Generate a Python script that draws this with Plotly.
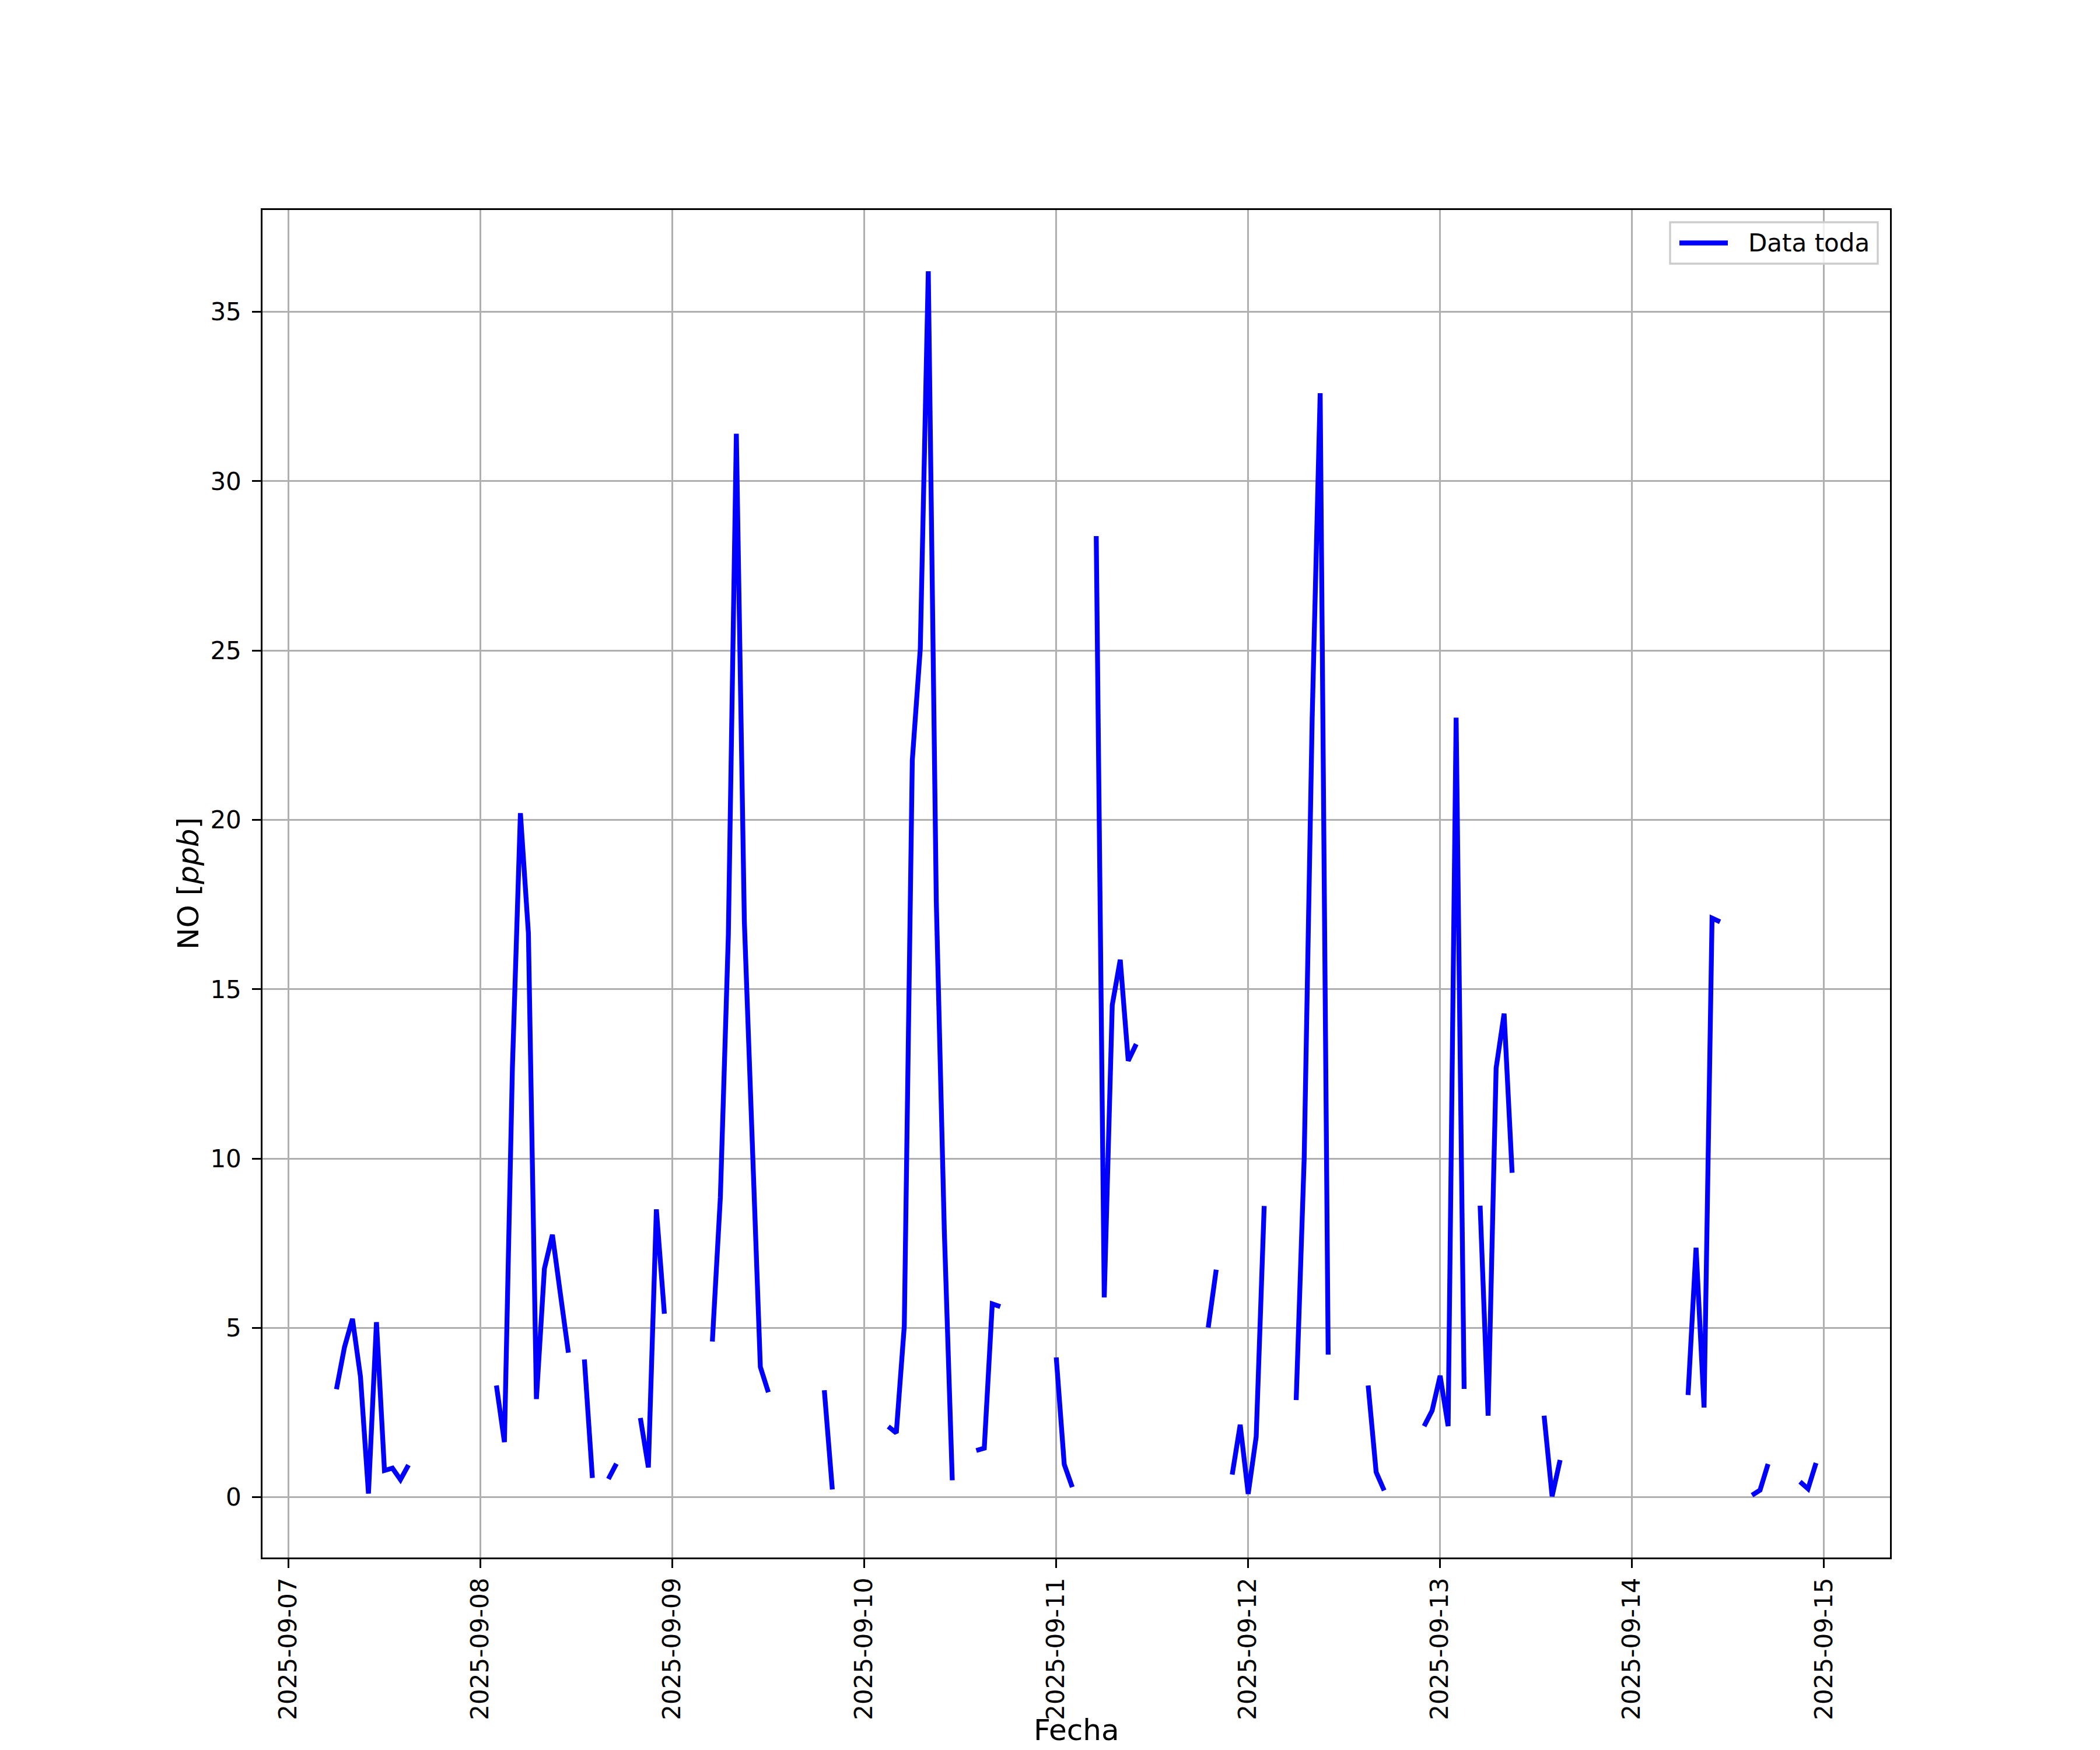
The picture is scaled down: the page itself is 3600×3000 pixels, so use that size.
import pandas as pd
import plotly.graph_objects as go

N = None
# Hourly NO values (ppb), hours 00..23 for each day; None = missing
dias = ["2025-09-07", "2025-09-08", "2025-09-09", "2025-09-10",
        "2025-09-11", "2025-09-12", "2025-09-13", "2025-09-14"]
no_07 = [N, N, N, N, N, N, 3.19, 4.43, 5.27, 3.56, 0.11, 5.17, 0.79, 0.86, 0.52, 0.95,
         N, N, N, N, N, N, N, N]
no_08 = [N, N, 3.30, 1.63, 12.7, 20.2, 16.65, 2.90, 6.75, 7.75, 6.0, 4.27, N, 4.07, 0.57, N,
         0.54, 0.99, N, N, 2.34, 0.88, 8.50, 5.42]
no_09 = [N, N, N, N, N, 4.6, 8.85, 16.6, 31.4, 17.0, 10.4, 3.85, 3.1, N, N, N,
         N, N, N, 3.16, 0.23, N, N, N]
no_10 = [N, N, N, 2.09, 1.90, 5.06, 21.76, 25.06, 36.2, 17.6, 7.9, 0.5, N, N, 1.38, 1.45,
         5.71, 5.63, N, N, N, N, N, N]
no_11 = [4.13, 0.97, 0.30, N, N, 28.38, 5.9, 14.53, 15.87, 12.89, 13.38, N, N, N, N, N,
         N, N, N, 5.01, 6.72, N, 0.67, 2.14]
no_12 = [0.10, 1.79, 8.60, N, N, N, 2.87, 10.0, 23.0, 32.6, 4.21, N, N, N, N, 3.30,
         0.74, 0.20, N, N, N, N, 2.10, 2.56]
no_13 = [3.59, 2.10, 23.02, 3.20, N, 8.61, 2.41, 12.67, 14.28, 9.58, N, N, N, 2.41, 0.03, 1.10,
         N, N, N, N, N, N, N, N]
no_14 = [N, N, N, N, N, N, N, 3.02, 7.37, 2.65, 17.10, 16.99, N, N, N, 0.06,
         0.21, 0.98, N, N, N, 0.46, 0.25, 1.01]
tick_labels = ["2025-09-07", "2025-09-08", "2025-09-09", "2025-09-10", "2025-09-11",
               "2025-09-12", "2025-09-13", "2025-09-14", "2025-09-15"]
y_ticks = [0, 5, 10, 15, 20, 25, 30, 35]
serie_nombre = "Data toda"

valores = no_07 + no_08 + no_09 + no_10 + no_11 + no_12 + no_13 + no_14
fechas = pd.date_range(dias[0] + " 00:00", periods=len(valores), freq="h")

# matplotlib-like autoscale with 5% margins
valid = [(t, v) for t, v in zip(fechas, valores) if v is not None]
t0, t1 = valid[0][0], valid[-1][0]
span = t1 - t0
x_range = [t0 - 0.05 * span, t1 + 0.05 * span]
vmin = min(v for _, v in valid)
vmax = max(v for _, v in valid)
ypad = 0.05 * (vmax - vmin)
y_range = [vmin - ypad, vmax + ypad]

FONT = "DejaVu Sans"
BLUE = "#0000ff"
LW = 8.3

fig = go.Figure()
fig.add_trace(go.Scatter(
    x=fechas, y=valores, mode="lines", name=serie_nombre,
    line=dict(color=BLUE, width=LW), connectgaps=False, showlegend=False,
))

# page body has an 8px margin: shrink figure so the axes land where the reference has them
OFF = 8
W, H = 3600 - OFF, 3000 - OFF
# axes box in page pixels: x 450..3240, y 360..2670
AX_L, AX_R, AX_T, AX_B = 450, 3240, 360, 2670
L, T = AX_L - OFF, AX_T - OFF
R, B = W - (AX_R - OFF), H - (AX_B - OFF)
plot_w = AX_R - AX_L
plot_h = AX_B - AX_T


def px(xp):
    return (xp - AX_L) / plot_w


def py(yp):
    return (AX_B - yp) / plot_h


fig.update_layout(
    width=W, height=H,
    margin=dict(l=L, r=R, t=T, b=B, pad=0),
    paper_bgcolor="white", plot_bgcolor="white",
    font=dict(family=FONT, size=42, color="black"),
    showlegend=False,
)
fig.update_xaxes(
    type="date", range=x_range,
    tickmode="array", tickvals=pd.to_datetime(tick_labels), ticktext=tick_labels,
    tickangle=-90,
    ticks="outside", ticklen=14.6, tickwidth=3.3, tickcolor="black",
    showgrid=True, gridcolor="#b0b0b0", gridwidth=3.3,
    showline=True, linecolor="black", linewidth=3.3, mirror=True,
    zeroline=False, ticklabelstandoff=0,
    tickfont=dict(family=FONT, size=42, color="black"),
)
fig.update_yaxes(
    range=y_range, tickmode="array", tickvals=y_ticks,
    ticktext=[str(v) for v in y_ticks],
    ticks="outside", ticklen=14.6, tickwidth=3.3, tickcolor="black",
    showgrid=True, gridcolor="#b0b0b0", gridwidth=3.3,
    showline=True, linecolor="black", linewidth=3.3, mirror=True,
    zeroline=False, ticklabelstandoff=10,
    tickfont=dict(family=FONT, size=42, color="black"),
)

# axis titles
fig.add_annotation(
    text="Fecha", xref="paper", yref="paper",
    x=0.5, y=py(2966), xanchor="center", yanchor="middle",
    showarrow=False, font=dict(family=FONT, size=50, color="black"),
)
fig.add_annotation(
    text="NO [<i>ppb</i>]", xref="paper", yref="paper",
    x=px(323), y=0.5, xanchor="center", yanchor="middle",
    textangle=-90, showarrow=False, font=dict(family=FONT, size=50, color="black"),
)

# legend (matplotlib style, upper right)
LG_L, LG_R, LG_T, LG_B = 2863, 3219, 381, 452
fig.add_shape(
    type="rect", xref="paper", yref="paper",
    x0=px(LG_L), x1=px(LG_R), y0=py(LG_B), y1=py(LG_T),
    line=dict(color="#cccccc", width=3.3), fillcolor="rgba(255,255,255,0.8)",
    layer="above",
)
lg_mid = (LG_T + LG_B) / 2
fig.add_shape(
    type="line", xref="paper", yref="paper",
    x0=px(2879), x1=px(2962), y0=py(lg_mid), y1=py(lg_mid),
    line=dict(color=BLUE, width=LW), layer="above",
)
fig.add_annotation(
    text=serie_nombre, xref="paper", yref="paper",
    x=px(2995), y=py(lg_mid), xanchor="left", yanchor="middle",
    showarrow=False, font=dict(family=FONT, size=42, color="black"),
)

fig.write_html("out.html")
